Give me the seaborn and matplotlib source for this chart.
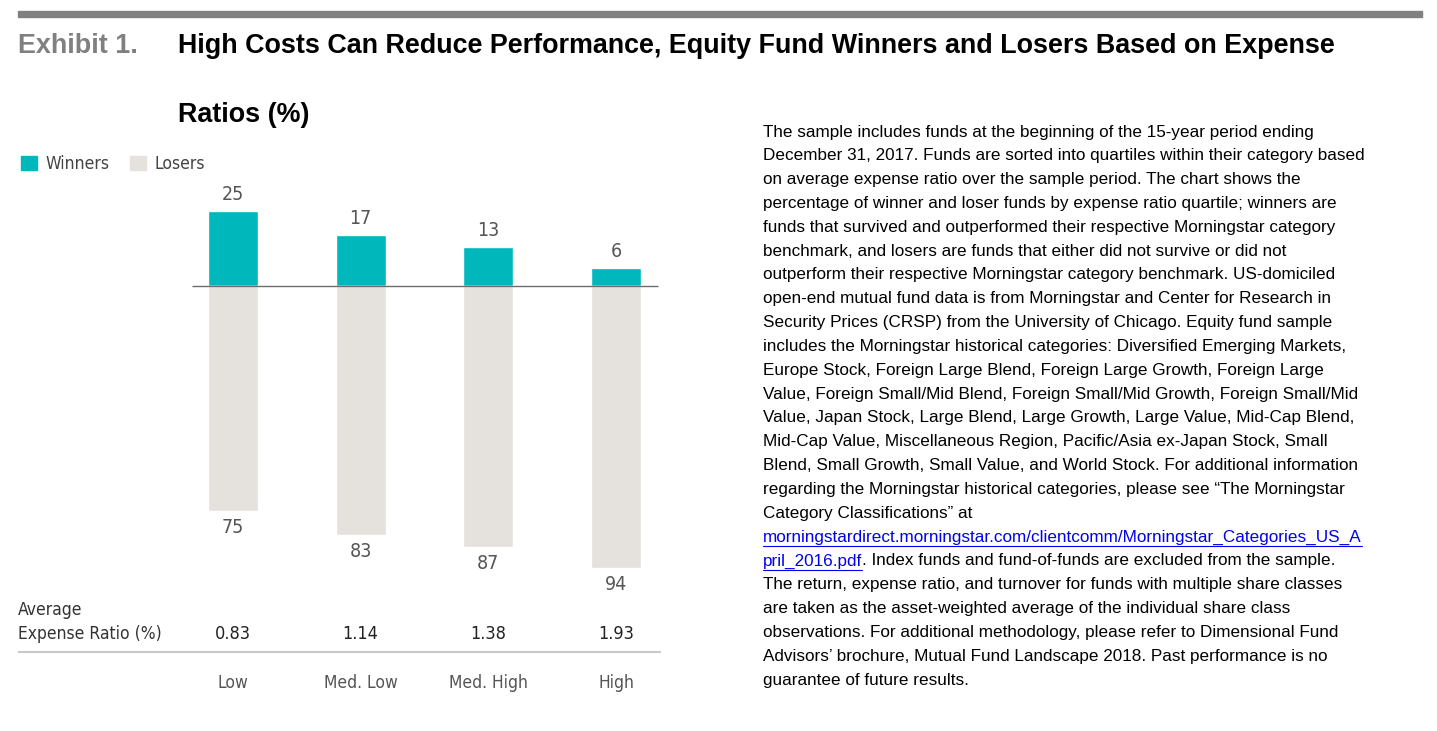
import numpy as np
import pandas as pd
import matplotlib
matplotlib.use('Agg')
import matplotlib.pyplot as plt
import seaborn as sns
from matplotlib.patches import Patch

# Data read from the exhibit
categories = ['Low', 'Med. Low', 'Med. High', 'High']
winners = [25, 17, 13, 6]
losers = [75, 83, 87, 94]
expense_ratios = ['0.83', '1.14', '1.38', '1.93']

note_lines = [
    "The sample includes funds at the beginning of the 15-year period ending",
    "December 31, 2017. Funds are sorted into quartiles within their category based",
    "on average expense ratio over the sample period. The chart shows the",
    "percentage of winner and loser funds by expense ratio quartile; winners are",
    "funds that survived and outperformed their respective Morningstar category",
    "benchmark, and losers are funds that either did not survive or did not",
    "outperform their respective Morningstar category benchmark. US-domiciled",
    "open-end mutual fund data is from Morningstar and Center for Research in",
    "Security Prices (CRSP) from the University of Chicago. Equity fund sample",
    "includes the Morningstar historical categories: Diversified Emerging Markets,",
    "Europe Stock, Foreign Large Blend, Foreign Large Growth, Foreign Large",
    "Value, Foreign Small/Mid Blend, Foreign Small/Mid Growth, Foreign Small/Mid",
    "Value, Japan Stock, Large Blend, Large Growth, Large Value, Mid-Cap Blend,",
    "Mid-Cap Value, Miscellaneous Region, Pacific/Asia ex-Japan Stock, Small",
    "Blend, Small Growth, Small Value, and World Stock. For additional information",
    "regarding the Morningstar historical categories, please see \u201cThe Morningstar",
    "Category Classifications\u201d at",
    None,
    None,
    "The return, expense ratio, and turnover for funds with multiple share classes",
    "are taken as the asset-weighted average of the individual share class",
    "observations. For additional methodology, please refer to Dimensional Fund",
    "Advisors\u2019 brochure, Mutual Fund Landscape 2018. Past performance is no",
    "guarantee of future results.",
]
link_1 = "morningstardirect.morningstar.com/clientcomm/Morningstar_Categories_US_A"
link_2 = "pril_2016.pdf"
after_link = ". Index funds and fund-of-funds are excluded from the sample."

TEAL = '#00b7bb'
SAND = '#e5e2dd'
W, H = 1437, 731

df = pd.DataFrame({
    'category': categories * 2,
    'value': winners + [-v for v in losers],
    'group': ['Winners'] * 4 + ['Losers'] * 4,
})

sns.set_theme(style='white')
chart_font = ['DejaVu Sans']
text_font = ['Liberation Sans', 'DejaVu Sans']
plt.rcParams['font.family'] = text_font
CF = dict(family=chart_font, stretch='condensed')

fig = plt.figure(figsize=(W / 100, H / 100), dpi=100)

# pixel helpers for figure coordinates
def fx(px):
    return px / W

def fy(py):
    return 1 - py / H

# axes covering the chart block, pixel mapping: zero at y=286, 3 px per unit
ax_l, ax_r, ax_t, ax_b = 18, 661, 150, 700
ax = fig.add_axes([fx(ax_l), fy(ax_b), fx(ax_r - ax_l), (ax_b - ax_t) / H])
x0, dx = 233, 127.67

sns.barplot(data=df, x='category', y='value', hue='group', order=categories,
            palette={'Winners': TEAL, 'Losers': SAND}, dodge=False,
            width=0.39, saturation=1, ax=ax, legend=False)
ax.set_xlim((ax_l - x0) / dx, (ax_r - x0) / dx)
ax.set_ylim((286 - ax_b) / 3, (286 - ax_t) / 3)
ax.axis('off')

ax.hlines(0, (192 - x0) / dx, (658 - x0) / dx, color='#6d6d6d', lw=1.0, zorder=3)

for i, (w, l) in enumerate(zip(winners, losers)):
    ax.annotate(str(w), (i, w), xytext=(0, 5), textcoords='offset points',
                ha='center', va='bottom', fontsize=14, color='#555555', **CF)
    ax.annotate(str(l), (i, -l), xytext=(0, -5), textcoords='offset points',
                ha='center', va='top', fontsize=14, color='#555555', **CF)
    ax.text(i, (286 - 634) / 3, expense_ratios[i], ha='center', va='center',
            fontsize=13, color='#222222', **CF)
    ax.text(i, (286 - 683) / 3, categories[i], ha='center', va='center',
            fontsize=12.5, color='#555555', **CF)

ax.text((18 - x0) / dx, (286 - 610) / 3, 'Average', ha='left', va='center',
        fontsize=12.5, color='#333333', **CF)
ax.text((18 - x0) / dx, (286 - 634) / 3, 'Expense Ratio (%)', ha='left', va='center',
        fontsize=12.5, color='#333333', **CF)
ax.hlines((286 - 652) / 3, (18 - x0) / dx, (661 - x0) / dx, color='#c8c8c8', lw=1.5)

handles = [Patch(color=TEAL, label='Winners'), Patch(color=SAND, label='Losers')]
leg = fig.legend(handles=handles, loc='center left', bbox_to_anchor=(fx(5), fy(164)),
                 ncol=2, frameon=False, handlelength=0.92, handleheight=0.92,
                 handletextpad=0.5, columnspacing=1.15,
                 prop={'family': chart_font, 'size': 12.6, 'stretch': 'condensed'})
for t in leg.get_texts():
    t.set_color('#444444')

# header
fig.patches.append(plt.Rectangle((fx(18), fy(17)), fx(1404), 6 / H, color='#808080',
                                 transform=fig.transFigure, figure=fig))
fig.text(fx(18), fy(46), 'Exhibit 1.', fontsize=19.4, fontweight='bold', color='#808080',
         ha='left', va='center')
fig.text(fx(178), fy(46), 'High Costs Can Reduce Performance, Equity Fund Winners and Losers Based on Expense',
         fontsize=19.4, fontweight='bold', color='black', ha='left', va='center')
fig.text(fx(178), fy(115), 'Ratios (%)', fontsize=19.4, fontweight='bold', color='black',
         ha='left', va='center')

# notes on the right
tx, ty0, lh = 763, 132, 23.83
NS = 12.3
fig.canvas.draw()
renderer = fig.canvas.get_renderer()
for k, line in enumerate(note_lines):
    y = ty0 + k * lh
    if line is not None:
        fig.text(fx(tx), fy(y), line, fontsize=NS, color='black', ha='left', va='center')
    elif k == 17:
        t = fig.text(fx(tx), fy(y), link_1, fontsize=NS, color='#0000ee', ha='left', va='center')
        bb = t.get_window_extent(renderer)
        fig.add_artist(plt.Line2D([fx(tx), fx(tx) + bb.width / W], [fy(y + 9)] * 2,
                                  color='#0000ee', lw=0.8, transform=fig.transFigure))
    else:
        t = fig.text(fx(tx), fy(y), link_2, fontsize=NS, color='#0000ee', ha='left', va='center')
        bb = t.get_window_extent(renderer)
        fig.add_artist(plt.Line2D([fx(tx), fx(tx) + bb.width / W], [fy(y + 9)] * 2,
                                  color='#0000ee', lw=0.8, transform=fig.transFigure))
        fig.text(fx(tx) + bb.width / W, fy(y), after_link, fontsize=NS, color='black',
                 ha='left', va='center')

fig.savefig('out.png', dpi=100, facecolor='white')
